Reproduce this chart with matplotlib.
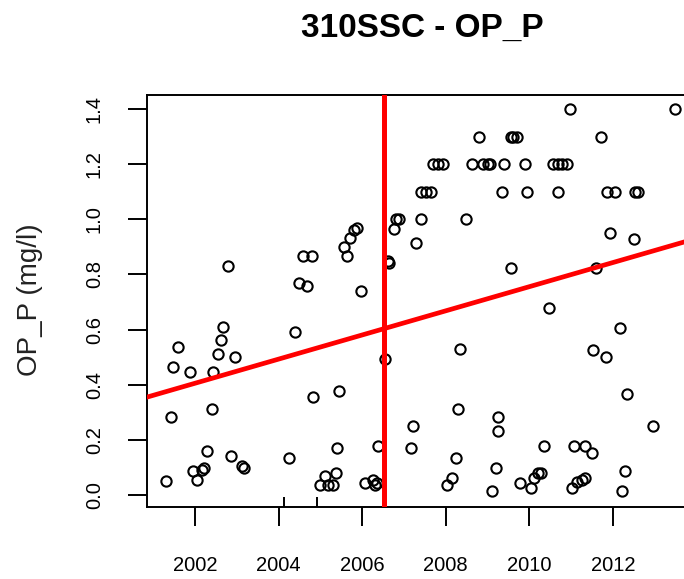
import matplotlib
matplotlib.use("Agg")
import matplotlib.pyplot as plt

plt.rcParams['font.family'] = ['Liberation Sans', 'DejaVu Sans']

title = "310SSC - OP_P"
ylabel = "OP_P (mg/l)"

dates = [
    2001.31, 2001.43, 2001.48, 2001.59, 2001.88, 2001.96, 2002.04, 2002.16, 2002.22, 2002.28,
    2002.40, 2002.44, 2002.56, 2002.62, 2002.68, 2002.80, 2002.85, 2002.96, 2003.12, 2003.18,
    2004.25, 2004.39, 2004.49, 2004.58, 2004.69, 2004.79, 2004.83, 2004.99, 2005.12, 2005.19,
    2005.31, 2005.37, 2005.40, 2005.45, 2005.57, 2005.63, 2005.71, 2005.81, 2005.87, 2005.97,
    2006.07, 2006.27, 2006.31, 2006.35, 2006.39,
    2006.55, 2006.62, 2006.65, 2006.76, 2006.82, 2006.88, 2007.17, 2007.22, 2007.28, 2007.40,
    2007.41, 2007.53, 2007.65, 2007.69, 2007.81, 2007.93, 2008.02, 2008.14, 2008.24, 2008.30,
    2008.34, 2008.48, 2008.62, 2008.79, 2008.90, 2009.00, 2009.06, 2009.10, 2009.20, 2009.26,
    2009.26, 2009.34, 2009.40, 2009.55, 2009.62, 2009.70, 2009.55, 2009.78, 2009.90, 2009.95,
    2010.05, 2010.12, 2010.21, 2010.28, 2010.35, 2010.47, 2010.57, 2010.69, 2010.69, 2010.78,
    2010.89, 2010.97, 2011.01, 2011.07, 2011.13, 2011.25, 2011.33, 2011.33, 2011.49, 2011.53,
    2011.59, 2011.71, 2011.83, 2011.85, 2011.94, 2012.05, 2012.17, 2012.22, 2012.29, 2012.34,
    2012.51, 2012.53, 2012.60, 2012.96, 2013.48,
]
values = [
    0.052, 0.284, 0.463, 0.536, 0.447, 0.088, 0.054, 0.091, 0.097, 0.160,
    0.312, 0.447, 0.511, 0.562, 0.608, 0.831, 0.143, 0.499, 0.106, 0.097,
    0.133, 0.590, 0.768, 0.867, 0.759, 0.867, 0.357, 0.036, 0.070, 0.036,
    0.036, 0.081, 0.169, 0.377, 0.900, 0.868, 0.931, 0.961, 0.970, 0.741,
    0.045, 0.054, 0.036, 0.045, 0.178,
    0.492, 0.849, 0.840, 0.964, 1.000, 1.000, 0.169, 0.250, 0.913, 1.000,
    1.100, 1.100, 1.100, 1.200, 1.200, 1.200, 0.036, 0.061, 0.133, 0.312,
    0.528, 1.000, 1.200, 1.300, 1.200, 1.200, 1.200, 0.016, 0.097, 0.284,
    0.232, 1.100, 1.200, 1.300, 1.300, 1.300, 0.822, 0.042, 1.200, 1.100,
    0.027, 0.061, 0.081, 0.081, 0.178, 0.680, 1.200, 1.200, 1.100, 1.200,
    1.200, 1.400, 0.024, 0.178, 0.048, 0.054, 0.061, 0.178, 0.151, 0.526,
    0.822, 1.300, 0.499, 1.100, 0.949, 1.100, 0.607, 0.016, 0.087, 0.365,
    0.930, 1.100, 1.100, 0.250, 1.400,
]

break_year = 2006.52
trend_x = [2001.0, 2013.0]
trend_y = [0.3615, 0.887]

xticks = [2002, 2004, 2006, 2008, 2010, 2012]
xticklabels = ["2002", "2004", "2006", "2008", "2010", "2012"]
yticks = [0.0, 0.2, 0.4, 0.6, 0.8, 1.0, 1.2, 1.4]
yticklabels = ["0.0", "0.2", "0.4", "0.6", "0.8", "1.0", "1.2", "1.4"]
inner_ticks = [2004.14, 2004.93]

W, H = 684, 579
fig = plt.figure(figsize=(W / 100, H / 100), dpi=100)
ax = fig.add_axes([147 / W, (H - 507) / H, (697 - 147) / W, (507 - 95) / H])

ax.set_xlim(2000.852, 2014.01)
ax.set_ylim(-0.0435, 1.4508)

ax.plot(dates, values, linestyle='none', marker='o', ms=7.4, mfc='none',
        mec='black', mew=1.5, zorder=3)
ax.axvline(break_year, color='red', lw=3.6, zorder=4)
ax.axline((trend_x[0], trend_y[0]), (trend_x[1], trend_y[1]), color='red', lw=3.4, zorder=4)

for s in ax.spines.values():
    s.set_linewidth(1.4)
    s.set_color('black')

ax.set_xticks(xticks)
ax.set_xticklabels(xticklabels)
ax.set_yticks(yticks)
ax.set_yticklabels(yticklabels, rotation=90, va='center')
ax.set_xticks(inner_ticks, minor=True)
ax.tick_params(axis='x', which='major', direction='out', length=14, width=1.4,
               labelsize=14.5, pad=21, colors='black')
ax.tick_params(axis='x', which='minor', direction='in', length=7.5, width=1.4)
ax.tick_params(axis='y', which='major', direction='out', length=14, width=1.4,
               labelsize=14.5, pad=17, colors='black')

fig.text(422 / W, 1 - 28 / H, title, ha='center', va='center',
         fontsize=24, fontweight='bold')
fig.text(30 / W, 1 - 300 / H, ylabel, ha='center', va='center',
         rotation=90, fontsize=20, color='#222222')

fig.savefig("out.png", dpi=100)
